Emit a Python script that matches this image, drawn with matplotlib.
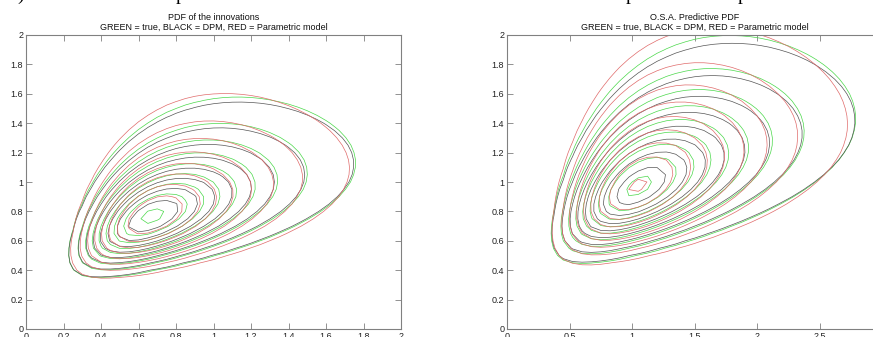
#!/usr/bin/env python3
"""
Contours of the innovation PDF and of the one-step-ahead predictive PDF.

Each density is described by a few shape numbers (centre, spread and
correlation in Box-Cox space), evaluated on a coarse grid and contoured
at fixed levels, one colour per model.
"""

import numpy as np
import matplotlib.pyplot as plt

plt.rcParams["font.family"] = ["Liberation Sans", "DejaVu Sans"]

# contour levels shared by all densities
LEVELS = [0.1, 0.2, 0.3, 0.4, 0.5, 0.6, 0.7, 0.8, 0.9]
BOXCOX_LAMBDA = 0.1

# models in drawing order: true, DPM, parametric
MODEL_COLORS = ["#4ad84a", "#555555", "#e06a6a"]

# left panel: PDF of the innovations (values in Box-Cox space)
INNOV_MX = [-0.393, -0.395, -0.385]
INNOV_MY = [-0.265, -0.270, -0.262]
INNOV_SX = [0.462, 0.466, 0.452]
INNOV_SY = [0.347, 0.343, 0.356]
INNOV_RHO = [0.53, 0.54, 0.47]
INNOV_PEAK = [0.92, 0.87, 0.89]

# right panel: O.S.A. predictive PDF
PRED_MX = [0.050, 0.055, 0.045]
PRED_MY = [-0.030, -0.035, -0.025]
PRED_SX = [0.489, 0.493, 0.480]
PRED_SY = [0.354, 0.348, 0.366]
PRED_RHO = [0.53, 0.54, 0.47]
PRED_PEAK = [0.92, 0.86, 0.91]

INNOV_XTICKS = [0, 0.2, 0.4, 0.6, 0.8, 1, 1.2, 1.4, 1.6, 1.8, 2]
PRED_XTICKS = [0, 0.5, 1, 1.5, 2, 2.5, 3]
YTICKS = [0, 0.2, 0.4, 0.6, 0.8, 1, 1.2, 1.4, 1.6, 1.8, 2]

SUBTITLE = "GREEN = true, BLACK = DPM, RED = Parametric model"


def boxcox(v, lam):
    return (np.power(v, lam) - 1.0) / lam


def density(xx, yy, mx, my, sx, sy, rho, peak):
    a = (boxcox(xx, BOXCOX_LAMBDA) - mx) / sx
    b = (boxcox(yy, BOXCOX_LAMBDA) - my) / sy
    q = (a * a - 2 * rho * a * b + b * b) / (1 - rho * rho)
    return peak * np.exp(-0.5 * q)


def tick_label(v):
    return f"{v:g}"


def draw_panel(ax, xmax, npts, params, xticks, title):
    gx = np.linspace(0, xmax, npts)
    gy = np.linspace(0, 2, 41)
    xx, yy = np.meshgrid(gx, gy)
    for i, color in enumerate(MODEL_COLORS):
        mx, my, sx, sy, rho, peak = (p[i] for p in params)
        with np.errstate(divide="ignore", over="ignore"):
            zz = density(xx, yy, mx, my, sx, sy, rho, peak)
        ax.contour(xx, yy, zz, levels=LEVELS, colors=color, linewidths=0.5)

    ax.set_xlim(0, xmax)
    ax.set_ylim(0, 2)
    ax.set_xticks(xticks)
    ax.set_xticklabels([tick_label(t) for t in xticks])
    ax.set_yticks(YTICKS)
    ax.set_yticklabels([tick_label(t) for t in YTICKS])
    ax.tick_params(direction="in", length=4, width=0.6, color="#808080",
                   labelsize=6.5, pad=2, top=True, right=True,
                   labelcolor="#222222")
    for sp in ax.spines.values():
        sp.set_color("#808080")
        sp.set_linewidth(0.8)
    ax.set_title(title + "\n" + SUBTITLE, fontsize=6.5, linespacing=1.1,
                 pad=4, color="#111111")


def main():
    fig = plt.figure(figsize=(8.73, 3.37), dpi=100)
    ax1 = fig.add_axes([26 / 873, 8 / 337, 375 / 873, 294 / 337])
    ax2 = fig.add_axes([507 / 873, 8 / 337, 375 / 873, 294 / 337])

    draw_panel(ax1, 2, 41,
               [INNOV_MX, INNOV_MY, INNOV_SX, INNOV_SY, INNOV_RHO, INNOV_PEAK],
               INNOV_XTICKS, "PDF of the innovations")
    draw_panel(ax2, 3, 41,
               [PRED_MX, PRED_MY, PRED_SX, PRED_SY, PRED_RHO, PRED_PEAK],
               PRED_XTICKS, "O.S.A. Predictive PDF")

    # bottoms of the caption line above the figure, cut by the page crop
    for x, s in [(21, ")"), (180, "p"), (630, "p"), (742, "p")]:
        fig.text(x / 873, 1.0, s, family="Liberation Serif", fontsize=14,
                 ha="center", va="baseline")

    fig.savefig("out.png", dpi=100)


if __name__ == "__main__":
    main()
